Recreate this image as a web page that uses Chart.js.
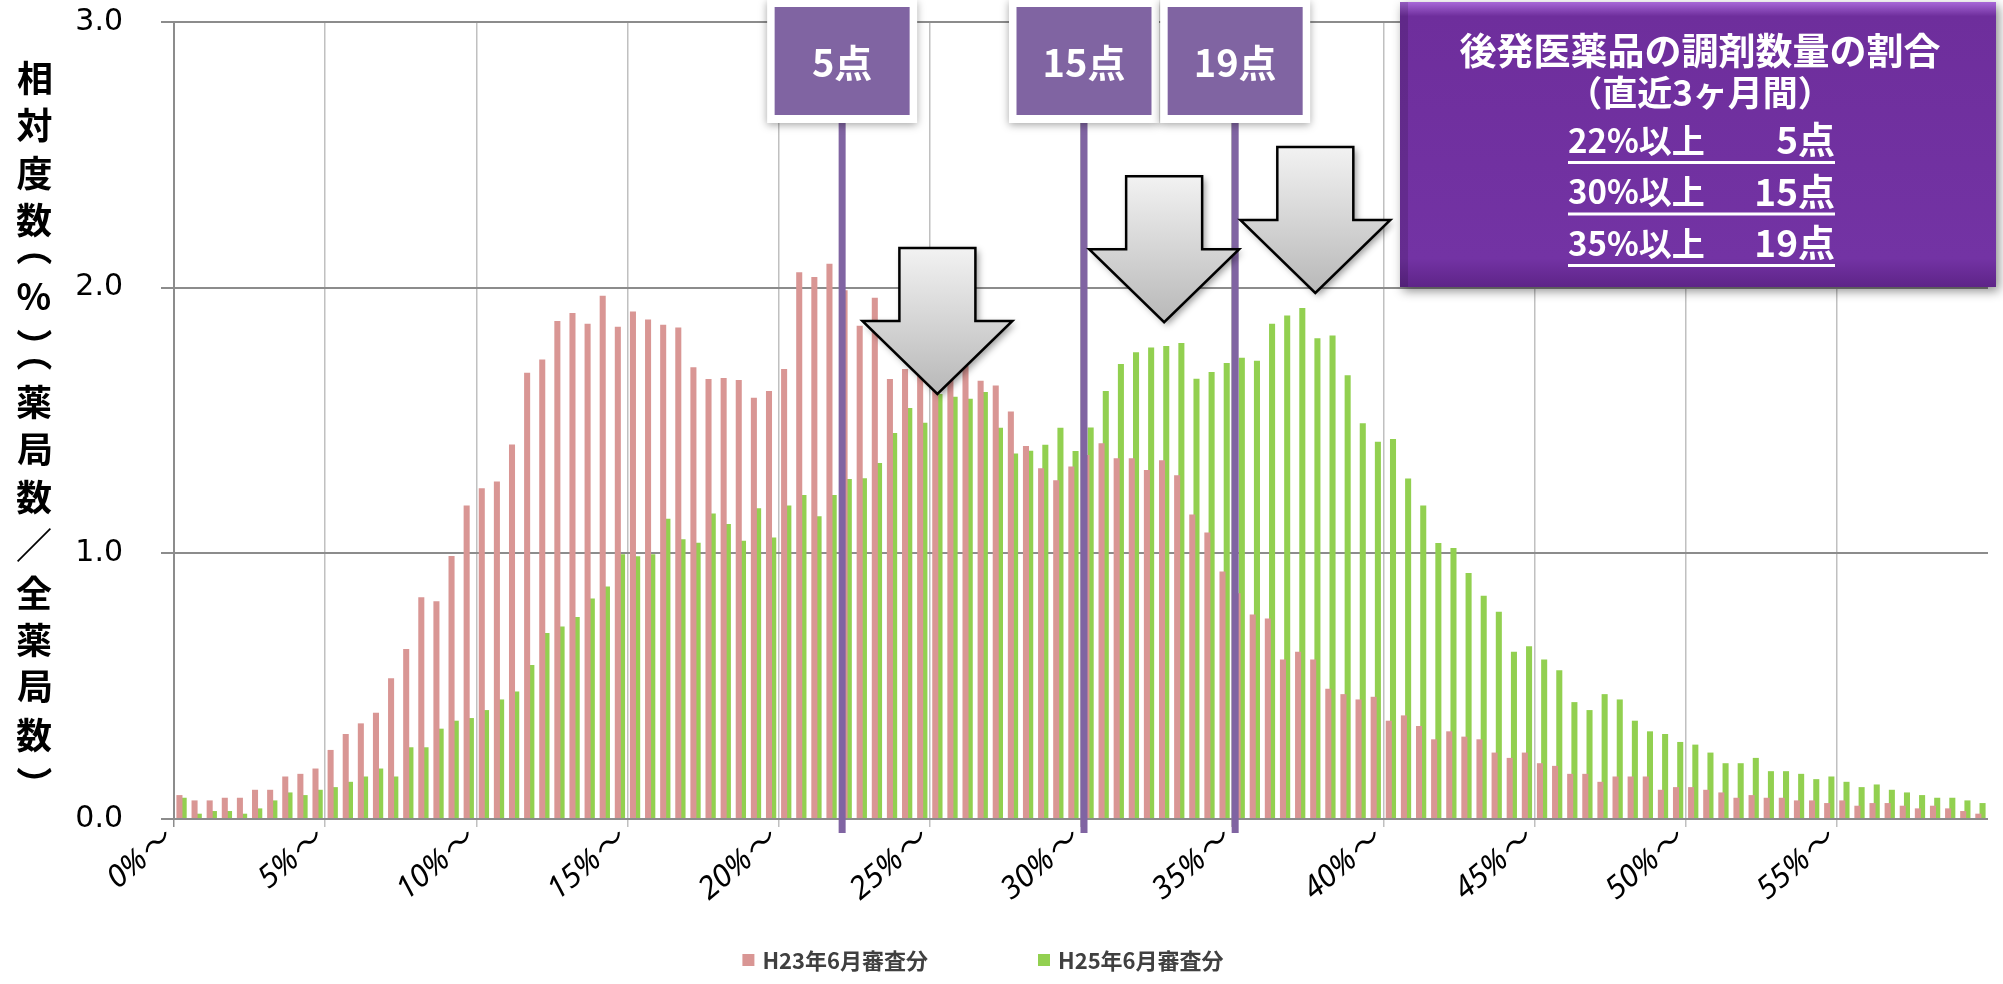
<!DOCTYPE html>
<html>
<head>
<meta charset="utf-8">
<script src="https://cdn.jsdelivr.net/npm/chart.js@4.4.1/dist/chart.umd.min.js"></script>
<style>
  html, body { margin: 0; padding: 0; background: #fff; }
</style>
</head>
<body>
<canvas id="myChart" width="2003" height="984"></canvas>
<script>
var jp = '"Noto Sans CJK JP", "Noto Sans", sans-serif';

// 0.5% bins, 0%～ to 59.5%～
var categories = [];
for (var i = 0; i < 120; i++) categories.push(i * 0.5 + "%～");
var tickLabels = ["0%～", "5%～", "10%～", "15%～", "20%～", "25%～", "30%～", "35%～", "40%～", "45%～", "50%～", "55%～"];

var h23 = [
  0.09, 0.07, 0.07, 0.08, 0.08, 0.11, 0.11, 0.16, 0.17, 0.19,
  0.26, 0.32, 0.36, 0.40, 0.53, 0.64, 0.835, 0.82, 0.99, 1.18,
  1.245, 1.27, 1.41, 1.68, 1.73, 1.875, 1.905, 1.864, 1.97, 1.853,
  1.91, 1.88, 1.86, 1.85, 1.70, 1.656, 1.66, 1.652, 1.586, 1.611,
  1.694, 2.058, 2.04, 2.09, 1.99, 1.857, 1.962, 1.656, 1.694, 1.70,
  1.72, 1.72, 1.706, 1.65, 1.632, 1.534, 1.404, 1.32, 1.275, 1.327,
  1.37, 1.414, 1.358, 1.358, 1.314, 1.35, 1.294, 1.146, 1.078, 0.932,
  0.85, 0.77, 0.755, 0.60, 0.63, 0.60, 0.49, 0.47, 0.45, 0.46,
  0.37, 0.39, 0.35, 0.30, 0.33, 0.31, 0.30, 0.25, 0.23, 0.25,
  0.21, 0.20, 0.17, 0.17, 0.14, 0.16, 0.16, 0.16, 0.11, 0.12,
  0.12, 0.11, 0.10, 0.08, 0.09, 0.08, 0.08, 0.07, 0.07, 0.06,
  0.07, 0.05, 0.06, 0.06, 0.05, 0.04, 0.05, 0.04, 0.03, 0.02
];
var h25 = [
  0.08, 0.02, 0.03, 0.03, 0.02, 0.04, 0.07, 0.10, 0.09, 0.11,
  0.12, 0.14, 0.16, 0.19, 0.16, 0.27, 0.27, 0.34, 0.37, 0.38,
  0.41, 0.45, 0.48, 0.58, 0.70, 0.725, 0.76, 0.83, 0.875, 0.997,
  0.989, 0.997, 1.13, 1.053, 1.04, 1.15, 1.11, 1.047, 1.17, 1.06,
  1.18, 1.22, 1.14, 1.22, 1.28, 1.283, 1.34, 1.453, 1.547, 1.492,
  1.60, 1.589, 1.582, 1.607, 1.473, 1.376, 1.386, 1.409, 1.473, 1.385,
  1.474, 1.611, 1.713, 1.757, 1.775, 1.78, 1.792, 1.657, 1.683, 1.716,
  1.736, 1.725, 1.864, 1.895, 1.923, 1.81, 1.82, 1.67, 1.49, 1.42,
  1.43, 1.282, 1.18, 1.039, 1.02, 0.926, 0.84, 0.78, 0.63, 0.65,
  0.60, 0.56, 0.44, 0.41, 0.47, 0.45, 0.37, 0.33, 0.32, 0.29,
  0.28, 0.25, 0.21, 0.21, 0.23, 0.18, 0.18, 0.17, 0.15, 0.16,
  0.14, 0.12, 0.13, 0.11, 0.10, 0.09, 0.08, 0.08, 0.07, 0.06
];

var yTitle = "相対度数（%）（薬局数／全薬局数）";
var boxLines = ["後発医薬品の調剤数量の割合", "（直近3ヶ月間）"];
var boxRules = [["22%以上", "5点"], ["30%以上", "15点"], ["35%以上", "19点"]];
// thresholds at bin index (22%, 30%, 35%)
var thresholds = [{ bin: 44, label: "5点" }, { bin: 60, label: "15点" }, { bin: 70, label: "19点" }];
var arrows = [{ bin: 50, tip: 1.60 }, { bin: 65, tip: 1.87 }, { bin: 75, tip: 1.98 }];

function binEdge(xs, bin) {
  var w = xs.getPixelForValue(1) - xs.getPixelForValue(0);
  return xs.getPixelForValue(bin) - w / 2;
}

// draw a glyph with its ink centred on (x, y), optionally turned 90deg
function inkChar(c, ch, x, y, turn) {
  var m = c.measureText(ch);
  var L = m.actualBoundingBoxLeft, R = m.actualBoundingBoxRight;
  var A = m.actualBoundingBoxAscent, D = m.actualBoundingBoxDescent;
  c.save();
  c.translate(x, y);
  if (turn) c.rotate(Math.PI / 2);
  c.fillText(ch, (L - R) / 2, (A - D) / 2);
  c.restore();
}

var yTitlePlugin = {
  id: "yTitle",
  afterDraw: function (chart) {
    var c = chart.ctx, a = chart.chartArea;
    var chars = Array.from(yTitle);
    var adv = 47.5, padv = 29;
    var steps = chars.map(function (ch) { return ch === "（" || ch === "）" ? padv : adv; });
    var centers = [], cum = 0;
    steps.forEach(function (s) { centers.push(cum + s / 2); cum += s; });
    var span = centers[centers.length - 1] - centers[0];
    var off = (a.top + a.bottom) / 2 + 5 - span / 2 - centers[0];
    c.save();
    c.fillStyle = "#000";
    c.font = "bold 36px " + jp;
    c.textAlign = "left";
    c.textBaseline = "alphabetic";
    chars.forEach(function (ch, k) {
      inkChar(c, ch, 34, centers[k] + off, ch === "（" || ch === "）");
    });
    c.restore();
  }
};

function drawArrow(c, cx, top, tipY) {
  var sw = 38, hw = 75;
  var headY = tipY - 73;
  c.save();
  c.beginPath();
  c.moveTo(cx - sw, top);
  c.lineTo(cx + sw, top);
  c.lineTo(cx + sw, headY);
  c.lineTo(cx + hw, headY);
  c.lineTo(cx, tipY);
  c.lineTo(cx - hw, headY);
  c.lineTo(cx - sw, headY);
  c.closePath();
  var g = c.createLinearGradient(0, top, 0, tipY);
  g.addColorStop(0, "#f2f2f2");
  g.addColorStop(1, "#b8b8b8");
  c.fillStyle = g;
  c.shadowColor = "rgba(0,0,0,0.4)";
  c.shadowBlur = 7;
  c.shadowOffsetX = 3;
  c.shadowOffsetY = 3;
  c.fill();
  c.shadowColor = "transparent";
  c.lineWidth = 2.5;
  c.strokeStyle = "#000";
  c.lineJoin = "miter";
  c.stroke();
  c.restore();
}

var notesPlugin = {
  id: "notes",
  afterDatasetsDraw: function (chart) {
    var c = chart.ctx, xs = chart.scales.x, ys = chart.scales.y, a = chart.chartArea;
    c.save();
    // threshold lines
    thresholds.forEach(function (t) {
      var x = binEdge(xs, t.bin) + 3;
      c.fillStyle = "#8064a2";
      c.fillRect(x - 3.5, 115, 7, a.bottom + 14 - 115);
    });
    // arrows
    arrows.forEach(function (ar) {
      var cx = xs.getPixelForValue(ar.bin);
      var tipY = ys.getPixelForValue(ar.tip);
      drawArrow(c, cx, tipY - 146, tipY);
    });
    // label boxes
    thresholds.forEach(function (t) {
      var x = binEdge(xs, t.bin) + 3;
      c.save();
      c.shadowColor = "rgba(0,0,0,0.35)";
      c.shadowBlur = 8;
      c.shadowOffsetY = 2;
      c.fillStyle = "#fff";
      c.fillRect(x - 75, 0, 150, 123);
      c.restore();
      c.fillStyle = "#8064a2";
      c.fillRect(x - 67.5, 7, 135, 108);
      c.fillStyle = "#fff";
      c.font = "bold 38px " + jp;
      c.textAlign = "center";
      c.textBaseline = "middle";
      c.fillText(t.label, x, 63);
    });
    // summary box
    var bx = 1400, by = 2, bw = 596, bh = 285;
    c.save();
    c.shadowColor = "rgba(0,0,0,0.45)";
    c.shadowBlur = 10;
    c.shadowOffsetX = 3;
    c.shadowOffsetY = 4;
    c.fillStyle = "#7030a0";
    c.fillRect(bx, by, bw, bh);
    c.restore();
    var g = c.createLinearGradient(0, by, 0, by + bh);
    g.addColorStop(0, "#a868d8");
    g.addColorStop(0.05, "#6e2e9c");
    g.addColorStop(0.9, "#7333a4");
    g.addColorStop(1, "#5e2488");
    c.fillStyle = g;
    c.fillRect(bx, by, bw, bh);
    c.fillStyle = "rgba(0,0,0,0.12)";
    c.fillRect(bx, by, 8, bh);
    var mid = bx + bw / 2 + 2;
    c.fillStyle = "#fff";
    c.textBaseline = "middle";
    c.textAlign = "center";
    c.font = "bold 37px " + jp;
    c.fillText(boxLines[0], mid, 51);
    c.font = "bold 35px " + jp;
    c.fillText(boxLines[1], mid, 93);
    var lx = 1568, rx = 1835;
    boxRules.forEach(function (r, k) {
      var y = 140 + k * 51.5;
      c.textAlign = "left";
      c.font = "bold 33px " + jp;
      c.fillText(r[0], lx, y);
      c.textAlign = "right";
      c.font = "bold 37px " + jp;
      c.fillText(r[1], rx, y);
      c.fillRect(lx, y + 21, rx - lx, 3);
    });
    c.restore();
  }
};

var legendPlugin = {
  id: "bottomLegend",
  afterDraw: function (chart) {
    var c = chart.ctx;
    var y = 960, box = 12, gap = 8, between = 110;
    c.save();
    c.font = "bold 22px " + jp;
    c.textBaseline = "middle";
    c.textAlign = "left";
    var ds = chart.data.datasets;
    var widths = ds.map(function (d) { return box + gap + c.measureText(d.label).width; });
    var total = widths[0] + widths[1] + between;
    var x = 983 - total / 2;
    ds.forEach(function (d, k) {
      c.fillStyle = d.backgroundColor;
      c.fillRect(x, y - box / 2, box, box);
      c.fillStyle = "#404040";
      c.fillText(d.label, x + box + gap, y + 1);
      x += widths[k] + between;
    });
    c.restore();
  }
};

var ctx = document.getElementById("myChart").getContext("2d");

var myChart = new Chart(ctx, {
  type: "bar",
  data: {
    labels: categories,
    datasets: [
      {
        label: "H23年6月審査分",
        data: h23,
        backgroundColor: "#d99694",
        categoryPercentage: 0.56,
        barPercentage: 1.43,
      },
      {
        label: "H25年6月審査分",
        data: h25,
        backgroundColor: "#92d050",
        categoryPercentage: 0.56,
        barPercentage: 1.43,
      },
    ],
  },
  options: {
    responsive: false,
    animation: false,
    devicePixelRatio: 1,
    layout: { padding: { top: 22, right: 15, left: 0, bottom: 0 } },
    plugins: {
      legend: { display: false },
      tooltip: { enabled: false },
    },
    scales: {
      x: {
        afterFit: function (s) { s.height = 165; },
        grid: {
          offset: true,
          drawTicks: true,
          tickLength: 8,
          lineWidth: 1.5,
          color: function (c) {
            if (c.index === 0) return "#8c8c8c";
            return c.index % 10 === 0 && c.index < 120 ? "#c0c0c0" : "transparent";
          },
        },
        border: { display: false },
        ticks: {
          autoSkip: false,
          minRotation: 40,
          maxRotation: 40,
          labelOffset: -14,
          padding: -5,
          color: "#000",
          font: { size: 31, style: "italic", family: '"Noto Sans", "Noto Sans CJK JP", sans-serif' },
          callback: function (v, i) { return i % 10 === 0 ? tickLabels[i / 10] : ""; },
        },
      },
      y: {
        min: 0,
        max: 3,
        afterFit: function (s) { s.width = 174; s.paddingTop = 0; s.paddingBottom = 0; },
        grid: { color: "#8c8c8c", lineWidth: 2, tickLength: 13 },
        border: { display: true, color: "#8c8c8c", width: 2 },
        ticks: {
          stepSize: 1,
          padding: 38,
          color: "#000",
          font: { size: 30, family: '"DejaVu Sans", sans-serif' },
          callback: function (v) { return v.toFixed(1); },
        },
      },
    },
  },
  plugins: [yTitlePlugin, notesPlugin, legendPlugin],
});
</script>
</body>
</html>
